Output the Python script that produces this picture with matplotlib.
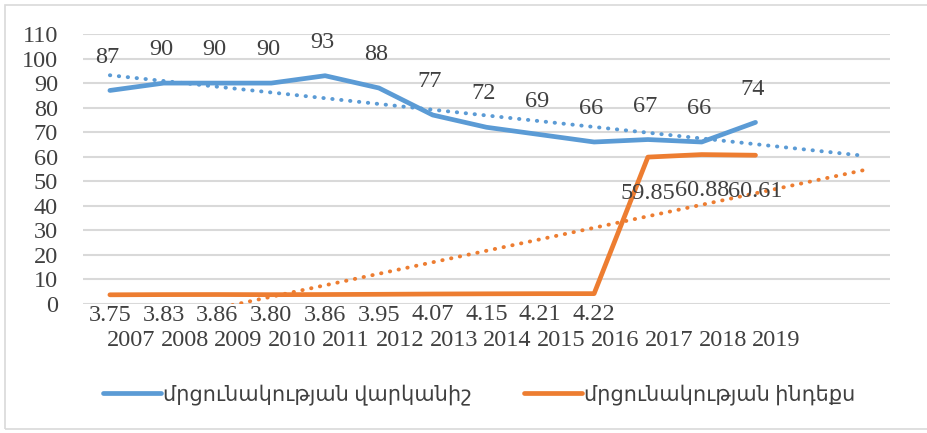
import numpy as np
import matplotlib
matplotlib.use("Agg")
import matplotlib.pyplot as plt
from matplotlib.patches import Rectangle
from matplotlib.transforms import ScaledTranslation

YEARS = ["2007", "2008", "2009", "2010", "2011", "2012", "2013",
         "2014", "2015", "2016", "2017", "2018", "2019"]
RATING = [87, 90, 90, 90, 93, 88, 77, 72, 69, 66, 67, 66, 74]
INDEX = [3.75, 3.83, 3.86, 3.80, 3.86, 3.95, 4.07, 4.15, 4.21, 4.22,
         59.85, 60.88, 60.61]
RATING_LABEL = "մրցունակության վարկանիշ"
INDEX_LABEL = "մրցունակության ինդեքս"

BLUE = "#5b9bd5"
ORANGE = "#ed7d31"
TEXT = "#404040"
FONT = ["Liberation Serif", "DejaVu Sans"]
FS = 17.5
FORECAST = 2  # trend lines run two periods forward


def main():
    plt.rcParams["font.family"] = FONT
    fig = plt.figure(figsize=(9.28, 4.33), dpi=100)
    ax = fig.add_axes([83 / 928, 1 - 304 / 433, 807 / 928, 270 / 433])

    x = np.arange(len(YEARS))
    x_trend = np.arange(len(YEARS) + FORECAST)

    # gridlines
    ax.set_ylim(0, 110)
    ax.set_xlim(-0.5, len(YEARS) + FORECAST - 0.5)
    ax.set_yticks(np.arange(0, 111, 10))
    ax.yaxis.grid(True, color="#d9d9d9", linewidth=1.5)
    ax.set_axisbelow(True)
    for s in ax.spines.values():
        s.set_visible(False)

    # trend lines (linear regression, like Excel)
    for vals, col in [(RATING, BLUE), (INDEX, ORANGE)]:
        k, b = np.polyfit(x, vals, 1)
        ax.plot(x_trend, k * x_trend + b, color=col, linestyle=(0, (0.1, 2.2)),
                linewidth=2.8, dash_capstyle="round", zorder=2)

    ax.plot(x, RATING, color=BLUE, linewidth=3.4, solid_capstyle="round",
            solid_joinstyle="round", label=RATING_LABEL, zorder=3)
    ax.plot(x, INDEX, color=ORANGE, linewidth=3.4, solid_capstyle="round",
            solid_joinstyle="round", label=INDEX_LABEL, zorder=3)

    for xi, v in zip(x, RATING):
        ax.annotate(f"{v}", (xi, v), xytext=(-2, 24), textcoords="offset points",
                    ha="center", va="center", fontsize=FS, color=TEXT)
    for xi, v in zip(x, INDEX):
        dy = -26 if v > 50 else -15
        ax.annotate(f"{v:.2f}", (xi, v), xytext=(0, dy), textcoords="offset points",
                    ha="center", va="center", fontsize=FS, color=TEXT)

    ax.set_xticks(x)
    ax.set_xticklabels(YEARS)
    ax.tick_params(axis="both", length=0, labelsize=FS, labelcolor=TEXT)
    ax.tick_params(axis="x", pad=19)
    ax.tick_params(axis="y", pad=18)
    shift = ScaledTranslation(21 / 100, 0, fig.dpi_scale_trans)
    for lab in ax.get_xticklabels():
        lab.set_transform(lab.get_transform() + shift)

    fig.legend(loc="center", bbox_to_anchor=(479 / 928, 1 - 395 / 433), ncol=2,
               frameon=False, fontsize=15, handlelength=2.8, handletextpad=0.1,
               columnspacing=2.5, labelcolor=TEXT)

    fig.patches.append(Rectangle((5 / 928, 4 / 433), 1.0, 1 - 9 / 433,
                                 transform=fig.transFigure, fill=False,
                                 edgecolor="#d9d9d9", linewidth=1.2))

    fig.savefig("out.png", dpi=100)


if __name__ == "__main__":
    main()
